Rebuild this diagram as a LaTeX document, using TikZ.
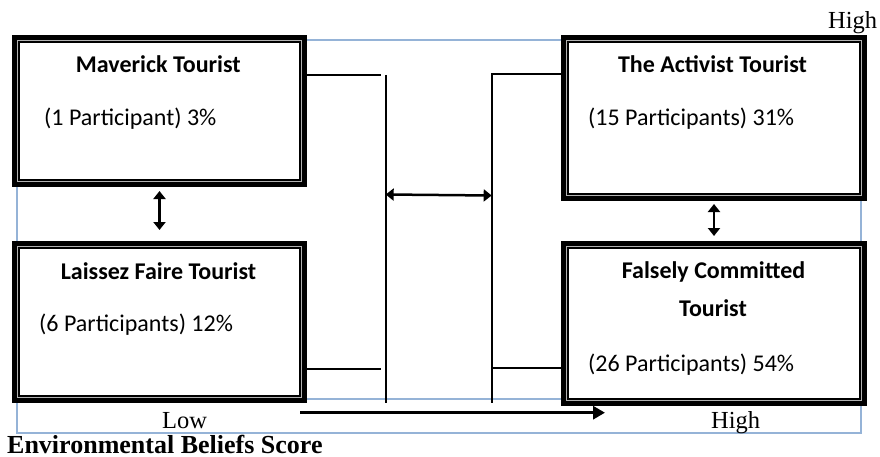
\documentclass[tikz,border=0pt]{standalone}
\usepackage{fontspec}
\usetikzlibrary{arrows.meta}
\newfontfamily\calibfont{Carlito}
\newfontfamily\serifxfont{Liberation Serif}
\definecolor{frameblue}{HTML}{95B3D7}
\tikzset{
  tbox/.style={draw=black, line width=8pt, fill=white, inner sep=0pt, rectangle},
  innerline/.style={draw=black, line width=1.8pt},
  grayline/.style={draw=gray!60, line width=0.8pt},
  frame/.style={draw=frameblue, line width=2.5pt},
  conn/.style={draw=black, line width=2pt},
  dbl/.style={draw=black, line width=2.5pt, {Triangle[length=8pt,width=12pt]}-{Triangle[length=8pt,width=12pt]}},
  bigarr/.style={draw=black, line width=3pt, -{Triangle[length=12pt,width=13pt]}},
  ttl/.style={inner sep=0pt, font={\calibfont\bfseries\fontsize{24}{28}\selectfont}},
  txt/.style={inner sep=0pt, font={\calibfont\fontsize{24}{28}\selectfont}},
  ser/.style={inner sep=0pt, font={\serifxfont\fontsize{24.5}{28}\selectfont}},
  serb/.style={inner sep=0pt, font={\serifxfont\bfseries\fontsize{26}{30}\selectfont}}
}
\begin{document}
\begin{tikzpicture}[x=1pt,y=-1pt]
\useasboundingbox[fill=white] (0,0) rectangle (880,457);
% blue frame
\draw[frame] (17,40) rectangle (861,433);
\draw[frame] (17,399) -- (861,399);
% boxes (border line centred 4pt inside the outer edge)
\node[tbox, minimum width=287pt, minimum height=144pt] (mav) at (159.5,111) {};
\node[tbox, minimum width=287pt, minimum height=154pt] (lai) at (159.5,322) {};
\node[tbox, minimum width=298pt, minimum height=158pt] (act) at (714,118) {};
\node[tbox, minimum width=298pt, minimum height=157pt] (fal) at (714,323.5) {};
\foreach \b in {mav,lai,act,fal}{
  \draw[grayline] ([shift={(5.4,5.4)}]\b.north west) rectangle ([shift={(-5.4,-5.4)}]\b.south east);
  \draw[innerline] ([shift={(7.3,7.3)}]\b.north west) rectangle ([shift={(-7.3,-7.3)}]\b.south east);
}
% coordinates
\coordinate (lvt) at (385.7,75);
\coordinate (lvb) at (385.7,403);
\coordinate (rvt) at (491.7,74.5);
\coordinate (rvb) at (491.7,403);
\coordinate (lht) at (380.5,75);
\coordinate (lhb) at (380.5,369.3);
\coordinate (rhb) at (491.7,368);
\coordinate (lva) at (385.7,194.5);
\coordinate (rva) at (491.7,195.5);
\coordinate (ba1) at (300,412.7);
\coordinate (ba2) at (605,412.7);
% connectors
\draw[conn] (mav.east |- lht) -- (lht);
\draw[conn] (lai.east |- lhb) -- (lhb);
\draw[conn] (lvt) -- (lvb);
\draw[conn] (act.west |- rvt) -- (rvt) -- (rvb);
\draw[conn] (fal.west |- rhb) -- (rhb);
\draw[dbl] (lva) -- (rva);
\draw[dbl] ([yshift=-4pt]mav.south) -- ([yshift=11pt]lai.north);
\draw[dbl] ([yshift=-3pt]act.south) -- ([yshift=5pt]fal.north);
\draw[bigarr] (ba1) -- (ba2);
% texts
\node[ttl, anchor=base] (t1) at (158.3,72.7) {Maverick Tourist};
\node[txt, anchor=base west] (p1) at (44,126) {(1 Participant) 3\%};
\node[ttl, anchor=base] (t2) at (712.5,72.7) {The Activist Tourist};
\node[txt, anchor=base west] (p2) at (588,126) {(15 Participants) 31\%};
\node[ttl, anchor=base] (t3) at (158.5,279.3) {Laissez Faire Tourist};
\node[txt, anchor=base west] (p3) at (39,331.7) {(6 Participants) 12\%};
\node[ttl, anchor=base] (t4) at (713.5,278.3) {Falsely Committed};
\node[ttl, anchor=base] (t5) at (713,316.7) {Tourist};
\node[txt, anchor=base west] (p4) at (588,371.7) {(26 Participants) 54\%};
\node[ser, anchor=base west] (h1) at (828,28.3) {High};
\node[ser, anchor=base west] (lo) at (162,428.3) {Low};
\node[ser, anchor=base west] (h2) at (711,428) {High};
\node[serb, anchor=base west] (ebs) at (7,453) {Environmental Beliefs Score};
\end{tikzpicture}
\end{document}
